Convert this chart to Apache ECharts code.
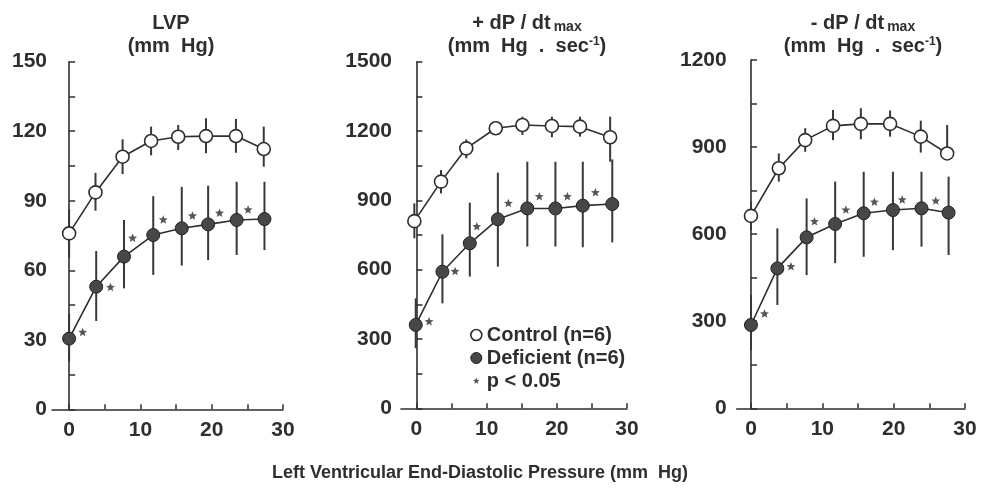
<!DOCTYPE html>
<html>
<head>
<meta charset="utf-8">
<script src="https://cdn.jsdelivr.net/npm/echarts@6/dist/echarts.min.js"></script>
<style>
html,body{margin:0;padding:0;background:#fff;}
#c{width:981px;height:490px;}
</style>
</head>
<body>
<div id="c"></div>
<script>
// ---------- DATA ----------
// Panel 1: LVP (mm Hg)
const lvpCtrlX = [0, 3.7, 7.5, 11.5, 15.3, 19.2, 23.4, 27.3];
const lvpCtrlY = [75.9, 93.6, 109, 115.8, 117.6, 117.9, 117.9, 112.3];
const lvpCtrlLo = [65.4, 85.7, 101.5, 109.6, 111.9, 110.5, 110.7, 104.7];
const lvpCtrlHi = [86.4, 102, 116.5, 122, 122.7, 125.6, 125.3, 122];
const lvpDefX = [0, 3.8, 7.7, 11.8, 15.8, 19.5, 23.5, 27.4];
const lvpDefY = [30.5, 52.9, 65.9, 75.2, 78.1, 79.8, 81.7, 82.1];
const lvpDefLo = [20.6, 38.1, 52.2, 58, 62, 64.4, 66.6, 68.7];
const lvpDefHi = [41.4, 68.3, 81.7, 92, 96, 96.5, 98.2, 98.2];
const lvpStarX = [1.9, 5.8, 8.9, 13.2, 17.3, 21.1, 25.1];
const lvpStarY = [33.2, 52.6, 73.8, 81.7, 83.4, 84.6, 86];

// Panel 2: +dP/dt max
const pdpCtrlX = [-0.3, 3.5, 7.1, 11.3, 15.1, 19.3, 23.3, 27.6];
const pdpCtrlY = [810, 981, 1125, 1212, 1226, 1222, 1219, 1173];
const pdpCtrlLo = [736, 930, 1082, 1183, 1183, 1173, 1176, 1067];
const pdpCtrlHi = [887, 1031, 1164, 1240, 1262, 1262, 1262, 1262];
const pdpDefX = [-0.1, 3.7, 7.6, 11.6, 15.8, 19.8, 23.7, 27.9];
const pdpDefY = [361, 591, 714, 818, 865, 865, 877, 884];
const pdpDefLo = [260, 454, 570, 613, 700, 700, 697, 718];
const pdpDefHi = [476, 753, 890, 1020, 1067, 1067, 1067, 1077];
const pdpStarX = [1.8, 5.5, 8.6, 13.1, 17.5, 21.5, 25.5];
const pdpStarY = [375, 592, 786, 887, 916, 916, 933];

// Panel 3: -dP/dt max
const ndpCtrlX = [0, 3.9, 7.6, 11.5, 15.4, 19.5, 23.8, 27.5];
const ndpCtrlY = [663, 827, 924, 973, 980, 980, 936, 878];
const ndpCtrlLo = [614, 781, 884, 924, 927, 936, 881, 878];
const ndpCtrlHi = [712, 878, 965, 1028, 1034, 1026, 991, 976];
const ndpDefX = [0, 3.7, 7.8, 11.8, 15.8, 19.9, 23.9, 27.7];
const ndpDefY = [287, 482, 589, 635, 672, 683, 689, 674];
const ndpDefLo = [201, 356, 459, 500, 522, 545, 557, 528];
const ndpDefHi = [390, 620, 723, 781, 815, 815, 815, 798];
const ndpStarX = [1.9, 5.6, 8.9, 13.3, 17.3, 21.2, 25.9];
const ndpStarY = [325, 488, 643, 683, 710, 718, 714];

// Tick labels
const xTicks = [0, 5, 10, 15, 20, 25, 30];
const xLabels = [0, 10, 20, 30];
const lvpYTicks = [0, 15, 30, 45, 60, 75, 90, 105, 120, 135, 150];
const lvpYLabels = [0, 30, 60, 90, 120, 150];
const pdpYTicks = [0, 150, 300, 450, 600, 750, 900, 1050, 1200, 1350, 1500];
const pdpYLabels = [0, 300, 600, 900, 1200, 1500];
const ndpYTicks = [0, 150, 300, 450, 600, 750, 900, 1050, 1200];
const ndpYLabels = [0, 300, 600, 900, 1200];

const nameCtrl = 'Control (n=6)';
const nameDef = 'Deficient (n=6)';
const nameStar = 'p < 0.05';
const xAxisTitle = 'Left Ventricular End-Diastolic Pressure (mm  Hg)';

// ---------- CHART ----------
const FONT = 'Liberation Sans, Arial, Helvetica, sans-serif';
const INK = '#2e2e2e';
const starPath = 'path://M2,2M18,18M10,5L11.29,8.22L14.76,8.45L12.09,10.68L12.94,14.05L10,12.2L7.06,14.05L7.91,10.68L5.24,8.45L8.71,8.22Z';

const panels = [
  {grid:{left:52, top:61.7, width:231, height:347.6}, xmin:-2.4, ymax:150, yTicks:lvpYTicks, yLabels:lvpYLabels, lm:5,
   cx:lvpCtrlX, cy:lvpCtrlY, clo:lvpCtrlLo, chi:lvpCtrlHi, dx:lvpDefX, dy:lvpDefY, dlo:lvpDefLo, dhi:lvpDefHi, sx:lvpStarX, sy:lvpStarY},
  {grid:{left:401, top:61.7, width:226, height:346.6}, xmin:-2.2, ymax:1500, yTicks:pdpYTicks, yLabels:pdpYLabels, lm:9,
   cx:pdpCtrlX, cy:pdpCtrlY, clo:pdpCtrlLo, chi:pdpCtrlHi, dx:pdpDefX, dy:pdpDefY, dlo:pdpDefLo, dhi:pdpDefHi, sx:pdpStarX, sy:pdpStarY},
  {grid:{left:736.7, top:60, width:228.3, height:348.3}, xmin:-2.0, ymax:1200, yTicks:ndpYTicks, yLabels:ndpYLabels, lm:10,
   cx:ndpCtrlX, cy:ndpCtrlY, clo:ndpCtrlLo, chi:ndpCtrlHi, dx:ndpDefX, dy:ndpDefY, dlo:ndpDefLo, dhi:ndpDefHi, sx:ndpStarX, sy:ndpStarY}
];

const zip2 = (a, b) => a.map((v, i) => [v, b[i]]);
const zip3 = (a, b, c) => a.map((v, i) => [v, b[i], c[i]]);

function errRender(params, api) {
  const p1 = api.coord([api.value(0), api.value(1)]);
  const p2 = api.coord([api.value(0), api.value(2)]);
  return {type:'line', shape:{x1:p1[0], y1:p1[1], x2:p2[0], y2:p2[1]},
          style:{stroke:'#383838', lineWidth:2}};
}

const plain = v => String(v);
const grids = [], xAxes = [], yAxes = [], series = [];
panels.forEach((p, i) => {
  grids.push(p.grid);
  xAxes.push({
    type:'value', gridIndex:i, min:p.xmin, max:30,
    axisLine:{onZero:false, lineStyle:{color:INK, width:1.6}},
    axisTick:{inside:true, length:5, customValues:xTicks, lineStyle:{color:INK, width:1.5}},
    axisLabel:{customValues:xLabels, formatter:plain, margin:10, color:INK, fontSize:21, fontWeight:'bold', fontFamily:FONT},
    splitLine:{show:false}
  });
  yAxes.push({
    type:'value', gridIndex:i, min:0, max:p.ymax,
    axisLine:{show:true, lineStyle:{color:INK, width:1.6}},
    axisTick:{show:true, inside:true, length:6, customValues:p.yTicks, lineStyle:{color:INK, width:1.5}},
    axisLabel:{customValues:p.yLabels, formatter:plain, margin:p.lm, color:INK, fontSize:21, fontWeight:'bold', fontFamily:FONT},
    splitLine:{show:false}
  });
  series.push({type:'custom', xAxisIndex:i, yAxisIndex:i, renderItem:errRender,
    data:zip3(p.cx, p.clo, p.chi), encode:{x:0, y:[1,2]}, z:1, silent:true});
  series.push({type:'custom', xAxisIndex:i, yAxisIndex:i, renderItem:errRender,
    data:zip3(p.dx, p.dlo, p.dhi), encode:{x:0, y:[1,2]}, z:1, silent:true});
  series.push({name:nameCtrl, type:'line', xAxisIndex:i, yAxisIndex:i, data:zip2(p.cx, p.cy),
    symbol:'circle', symbolSize:13, showAllSymbol:true, z:3,
    lineStyle:{color:INK, width:1.6},
    itemStyle:{color:'#fff', borderColor:INK, borderWidth:1.6}});
  series.push({name:nameDef, type:'line', xAxisIndex:i, yAxisIndex:i, data:zip2(p.dx, p.dy),
    symbol:'circle', symbolSize:13, showAllSymbol:true, z:3,
    lineStyle:{color:INK, width:1.6},
    itemStyle:{color:'#474747', borderColor:'#222', borderWidth:1}});
  series.push({name:nameStar, type:'scatter', xAxisIndex:i, yAxisIndex:i, data:zip2(p.sx, p.sy),
    symbol:starPath, symbolSize:15, z:4, itemStyle:{color:'#2a2a2a'}});
});

const titleStyle = {color:INK, fontSize:20, fontWeight:'bold', fontFamily:FONT, lineHeight:23,
  rich:{
    sub:{fontSize:14, fontWeight:'bold', fontFamily:FONT, color:INK, padding:[7,0,0,3]},
    sup:{fontSize:12, fontWeight:'bold', fontFamily:FONT, color:INK, padding:[0,0,9,0]}
  }};

const option = {
  backgroundColor:'#fff',
  animation:false,
  title:[
    {text:'LVP\n(mm  Hg)', left:166, top:7, textAlign:'center', textStyle:titleStyle},
    {text:'+ dP / dt{sub|max}\n(mm  Hg  .  sec{sup|-1})', left:522, top:7, textAlign:'center', textStyle:titleStyle},
    {text:'- dP / dt{sub|max}\n(mm  Hg  .  sec{sup|-1})', left:858, top:7, textAlign:'center', textStyle:titleStyle},
    {text:xAxisTitle, left:475, top:459, textAlign:'center',
      textStyle:{color:INK, fontSize:18, fontWeight:'bold', fontFamily:FONT}}
  ],
  legend:{
    orient:'vertical', left:465, top:320, itemWidth:11, itemHeight:11, itemGap:3,
    textStyle:{color:INK, fontSize:20, fontWeight:'bold', fontFamily:FONT, lineHeight:18},
    data:[
      {name:nameCtrl, icon:'circle', itemStyle:{color:'#fff', borderColor:INK, borderWidth:1.6}},
      {name:nameDef, icon:'circle', itemStyle:{color:'#474747', borderColor:'#222', borderWidth:1}},
      {name:nameStar, icon:starPath, itemStyle:{color:'#2a2a2a'}}
    ],
    selectedMode:false
  },
  grid:grids, xAxis:xAxes, yAxis:yAxes, series:series
};

const chart = echarts.init(document.getElementById('c'), null, {renderer:'canvas'});
chart.setOption(option);
</script>
</body>
</html>
